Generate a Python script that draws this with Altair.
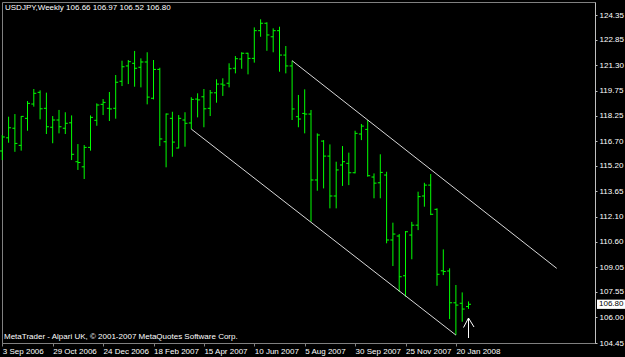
import altair as alt
import pandas as pd

symbol_title = "USDJPY,Weekly"
copyright_text = "MetaTrader - Alpari UK, \u00a9 2001-2007 MetaQuotes Software Corp."
first_week = "2006-09-03"

opens = [116.10, 116.90, 117.48, 116.44, 118.08, 118.95, 119.66, 118.69, 117.54, 117.98,
         117.48, 117.81, 115.45, 115.14, 116.32, 117.96, 118.93, 118.69, 118.69, 120.33,
         121.26, 121.42, 121.18, 121.50, 119.30, 121.05, 116.66, 118.08, 116.28, 117.98,
         117.80, 119.25, 119.39, 118.69, 119.63, 120.16, 120.21, 121.12, 121.68, 122.03,
         121.72, 123.40, 123.85, 123.03, 123.40, 121.92, 121.26, 118.18, 118.38, 118.34,
         114.34, 116.70, 115.79, 113.37, 115.25, 115.35, 114.78, 117.13, 117.41, 114.52,
         114.17, 114.64, 110.70, 110.94, 108.53, 111.00, 111.60, 113.37, 114.03, 112.56,
         108.83, 108.82, 106.89, 106.86, 106.66]
highs = [117.07, 118.18, 118.34, 118.22, 119.13, 119.86, 119.78, 119.64, 118.22, 118.59,
         118.45, 118.26, 116.52, 116.46, 118.26, 118.99, 119.25, 119.68, 120.71, 121.58,
         121.62, 122.17, 121.72, 122.09, 121.62, 121.15, 118.38, 118.48, 118.28, 118.45,
         119.36, 119.60, 119.86, 119.80, 120.45, 120.51, 121.42, 121.86, 122.09, 122.06,
         123.60, 124.09, 123.91, 123.54, 123.64, 122.47, 121.58, 119.50, 119.84, 118.59,
         117.17, 116.76, 116.50, 115.45, 116.40, 116.00, 117.33, 117.74, 117.98, 114.74,
         115.90, 114.84, 111.75, 111.06, 111.24, 111.80, 113.63, 114.17, 114.70, 112.62,
         110.13, 108.98, 107.97, 107.52, 106.97]
lows = [115.55, 116.60, 116.05, 116.12, 117.33, 118.79, 118.02, 117.13, 116.57, 117.17,
        117.13, 115.55, 114.95, 114.40, 116.12, 117.63, 118.28, 117.92, 118.06, 120.04,
        120.16, 120.00, 119.96, 118.93, 119.23, 116.40, 115.11, 115.75, 116.26, 116.36,
        117.43, 118.14, 117.54, 118.22, 119.03, 119.44, 119.96, 120.81, 121.09, 120.75,
        121.46, 123.03, 122.18, 122.09, 120.91, 120.81, 117.98, 117.54, 117.17, 111.81,
        113.69, 113.83, 112.62, 112.62, 113.98, 114.03, 114.74, 116.76, 114.54, 113.23,
        113.23, 110.50, 109.12, 107.56, 107.26, 109.53, 111.30, 112.72, 112.21, 107.92,
        108.57, 105.90, 104.93, 105.74, 106.52]
closes = [116.95, 117.51, 116.56, 118.20, 118.99, 119.60, 118.66, 117.57, 117.98, 117.57,
          117.78, 115.90, 115.40, 116.32, 118.14, 118.89, 119.05, 118.65, 120.27, 121.21,
          121.52, 121.12, 121.50, 119.37, 121.05, 116.83, 118.34, 116.64, 118.08, 117.78,
          119.23, 119.20, 118.66, 119.63, 120.16, 120.10, 121.09, 121.70, 122.03, 121.72,
          123.40, 123.85, 123.14, 123.40, 121.92, 121.26, 118.65, 118.04, 118.34, 114.34,
          117.07, 115.79, 113.37, 114.95, 115.45, 114.78, 117.17, 117.61, 114.60, 114.15,
          114.80, 110.70, 111.06, 108.47, 111.20, 111.60, 113.33, 114.03, 112.26, 108.62,
          108.79, 106.89, 106.75, 106.51, 106.80]

price_ticks = [104.45, 106.00, 107.55, 109.05, 110.60, 112.10, 113.65, 115.20,
               116.70, 118.25, 119.75, 121.30, 122.85, 124.35]
date_ticks = ["2006-09-03", "2006-10-29", "2006-12-24", "2007-02-18", "2007-04-15",
              "2007-06-10", "2007-08-05", "2007-09-30", "2007-11-25", "2008-01-20"]

trend_ids = ["lower", "lower", "upper", "upper"]
trend_dates = ["2007-04-01", "2008-01-20", "2007-07-22", "2008-05-11"]
trend_prices = [117.43, 104.93, 121.58, 108.98]

arrow_price = 105.36

GREEN = "#00ff00"
FONT = "Liberation Sans"
FS = 8

dates = [d.strftime("%Y-%m-%dT00:00:00") for d in pd.date_range(first_week, periods=len(opens), freq="7D")]
bars = pd.DataFrame({"date": dates, "open": opens, "high": highs, "low": lows, "close": closes})
trend = pd.DataFrame({"id": trend_ids, "date": [d + "T00:00:00" for d in trend_dates], "price": trend_prices})
last = bars.iloc[[-1]].copy()
last["label"] = last["close"].map(lambda v: f"{v:.2f}")
arrow_df = pd.DataFrame({"date": [dates[-1]], "price": [arrow_price]})
header = pd.DataFrame({"t": [f"{symbol_title}  {opens[-1]:.2f} {highs[-1]:.2f} {lows[-1]:.2f} {closes[-1]:.2f}"]})
footer = pd.DataFrame({"t": [copyright_text]})


def dt(s, hours=0, minutes=0):
    y, m, d = s.split("-")
    return alt.DateTime(year=int(y), month=int(m), date=int(d), hours=hours, minutes=minutes)


xscale = alt.Scale(domain=[dt("2006-09-02", 16), dt("2008-06-22", 13, 12)], nice=False)
yscale = alt.Scale(domain=[104.45, 125.14], nice=False, zero=False)
xaxis = alt.Axis(values=[dt(s) for s in date_ticks], format="%-d %b %Y", title=None,
                 grid=False, labelAlign="left", labelBaseline="middle", labelPadding=5,
                 tickSize=3, labelFlush=False, labelOverlap=False)
yaxis = alt.Axis(values=price_ticks, format=".2f", title=None, orient="right", grid=False,
                 labelAlign="left", labelBaseline="middle", labelPadding=2, tickSize=2,
                 labelFlush=False, labelOverlap=False)


def X(field="date"):
    return alt.X(f"{field}:T", scale=xscale, axis=xaxis)


def Y(field):
    return alt.Y(f"{field}:Q", scale=yscale, axis=yaxis)


wicks = alt.Chart(bars).mark_rule(color=GREEN, strokeWidth=1).encode(
    x=X(), y=Y("low"), y2="high:Q")
open_ticks = alt.Chart(bars).mark_rule(color=GREEN, strokeWidth=1, xOffset=-2.5, x2Offset=0).encode(
    x=X(), x2="date:T", y=Y("open"))
close_ticks = alt.Chart(bars).mark_rule(color=GREEN, strokeWidth=1, xOffset=0, x2Offset=2.5).encode(
    x=X(), x2="date:T", y=Y("close"))
lines = alt.Chart(trend).mark_line(color="#d8d8d8", strokeWidth=1).encode(
    x=X(), y=Y("price"), detail="id:N")
arrow = alt.Chart(arrow_df).mark_point(
    shape="M0,1L0,-1M-0.5,-0.05L0,-1L0.55,-0.1", size=400, filled=False,
    color="white", strokeWidth=1, opacity=1).encode(x=X(), y=Y("price"))
box = alt.Chart(last).mark_point(
    shape="M-1,-0.33H1V0.33H-1Z", size=784, filled=True, color="white", opacity=1).encode(
    x=alt.value(609), y=Y("close"))
box_text = alt.Chart(last).mark_text(
    color="black", align="left", baseline="middle", font=FONT, fontSize=FS).encode(
    x=alt.value(597), y=Y("close"), text="label:N")
head = alt.Chart(header).mark_text(
    color="white", align="left", baseline="middle", font=FONT, fontSize=FS).encode(
    x=alt.value(3), y=alt.value(6), text="t:N")
foot = alt.Chart(footer).mark_text(
    color="white", align="left", baseline="middle", font=FONT, fontSize=FS).encode(
    x=alt.value(2), y=alt.value(335), text="t:N")

chart = alt.layer(wicks, open_ticks, close_ticks, lines, arrow, box, box_text, head, foot).properties(
    width=593, height=341,
    padding={"left": 2, "top": 2, "right": 30, "bottom": 14},
    autosize=alt.AutoSizeParams(type="none"),
    background="black",
).configure_view(stroke="#808080", strokeWidth=1).configure_axis(
    domainColor="#c0c0c0", tickColor="#c0c0c0", labelColor="white",
    labelFont=FONT, labelFontSize=FS,
).configure_axisBottom(domainColor="#808080", tickColor="#808080")

chart.save("out.html", embed_options={"renderer": "svg", "actions": False})
